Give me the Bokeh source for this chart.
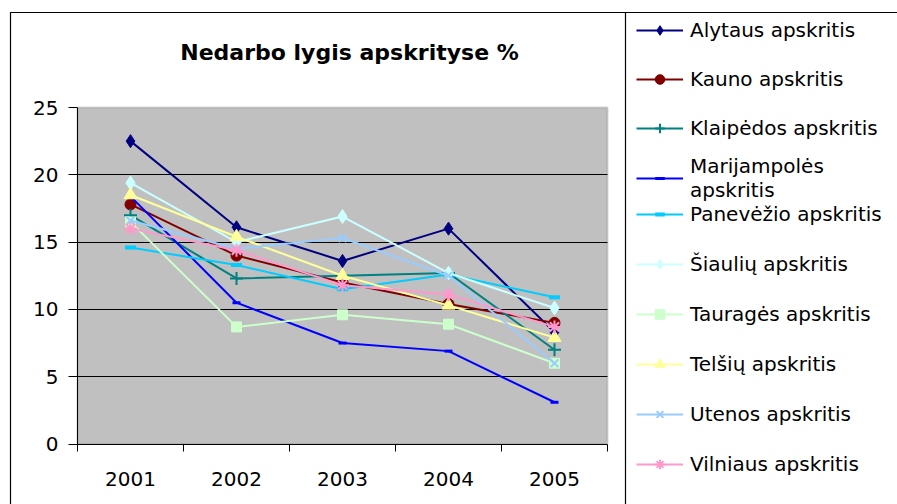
from bokeh.plotting import figure
from bokeh.models import (Range1d, FixedTicker, Legend, LegendItem, Label,
                          BoxAnnotation, LinearAxis, Grid)
from bokeh.embed import file_html
from bokeh.resources import INLINE

years = [2001, 2002, 2003, 2004, 2005]
y_ticks = [0, 5, 10, 15, 20, 25]
grid_ticks = [5, 10, 15, 20]
cat_bounds = [2000.5, 2001.5, 2002.5, 2003.5, 2004.5, 2005.5]

alytaus = [22.5, 16.1, 13.6, 16.0, 8.3]
kauno = [17.8, 14.0, 12.0, 10.4, 9.0]
klaipedos = [17.0, 12.3, 12.5, 12.7, 7.0]
marijampoles = [18.4, 10.5, 7.5, 6.9, 3.1]
panevezio = [14.6, 13.3, 11.5, 12.6, 10.9]
siauliu = [19.4, 15.0, 16.9, 12.7, 10.1]
taurages = [16.5, 8.7, 9.6, 8.9, 6.0]
telsiu = [18.5, 15.4, 12.5, 10.3, 7.9]
utenos = [16.6, 14.5, 15.3, 12.5, 6.0]
vilniaus = [16.0, 14.4, 11.8, 11.1, 8.7]

names = ["Alytaus apskritis", "Kauno apskritis", "Klaipėdos apskritis",
         "Marijampolės\napskritis", "Panevėžio apskritis", "Šiaulių apskritis",
         "Tauragės apskritis", "Telšių apskritis", "Utenos apskritis",
         "Vilniaus apskritis"]
values = [alytaus, kauno, klaipedos, marijampoles, panevezio, siauliu,
          taurages, telsiu, utenos, vilniaus]
colors = ["#000080", "#800000", "#008080", "#0000FF", "#00CCFF", "#CCFFFF",
          "#CCFFCC", "#FFFF99", "#99CCFF", "#FF99CC"]
markers = ["diamond", "circle", "cross", "dash", "dash", "diamond", "square",
           "triangle", "x", "asterisk"]
msizes = [13, 11, 13, 8, 11, 14, 10, 13, 11, 13]
mlw = [1, 1, 2, 3, 4, 1, 1, 1, 2, 2]

FONT = "DejaVu Sans"
W, H = 897, 504
# plot-area pixel box inside the canvas
PX0, PX1, PY_TOP, PY_BOT = 77, 607, 107, 443.5
xs = (cat_bounds[-1] - cat_bounds[0]) / (PX1 - PX0)
ys = (y_ticks[-1] - y_ticks[0]) / (PY_BOT - PY_TOP)
x_range = Range1d(cat_bounds[0] - PX0 * xs, cat_bounds[-1] + (W - PX1) * xs)
y_range = Range1d(y_ticks[0] - (H - PY_BOT) * ys, y_ticks[-1] + PY_TOP * ys)

p = figure(width=W, height=H, output_backend="svg", toolbar_location=None,
           x_range=x_range, y_range=y_range,
           x_axis_location=None, y_axis_location=None,
           min_border=0, min_border_left=0, min_border_right=0,
           min_border_top=0, min_border_bottom=0)
p.background_fill_color = "white"
p.border_fill_color = "white"
p.outline_line_color = None
for g in list(p.grid):
    g.visible = False

# gray plot area
area = BoxAnnotation(left=cat_bounds[0], right=cat_bounds[-1], bottom=y_ticks[0], top=y_ticks[-1],
                     fill_color="#C0C0C0", fill_alpha=1, line_color="#808080",
                     line_width=2, level="image")
p.add_layout(area)

# horizontal gridlines
if "cross_bounds" in Grid.properties():
    grid = Grid(dimension=1, ticker=FixedTicker(ticks=grid_ticks),
                cross_bounds=(cat_bounds[0], cat_bounds[-1]),
                grid_line_color="black", grid_line_width=1)
    p.add_layout(grid)
else:
    p.segment(x0=[cat_bounds[0]] * len(grid_ticks), x1=[cat_bounds[-1]] * len(grid_ticks),
              y0=grid_ticks, y1=grid_ticks, line_color="black", line_width=1, level="underlay")

xaxis = LinearAxis(fixed_location=0, bounds=(cat_bounds[0], cat_bounds[-1]),
                   ticker=FixedTicker(ticks=years, minor_ticks=cat_bounds))
xaxis.major_tick_out = 0
xaxis.major_tick_in = 0
xaxis.minor_tick_out = 7
xaxis.minor_tick_in = 0
xaxis.minor_tick_line_color = "black"
xaxis.axis_line_color = "black"
xaxis.major_label_text_font = FONT
xaxis.major_label_text_font_size = "20px"
xaxis.major_label_text_color = "black"
xaxis.major_label_standoff = 21
p.add_layout(xaxis, "below")

yaxis = LinearAxis(fixed_location=cat_bounds[0], bounds=(y_ticks[0], y_ticks[-1]),
                   ticker=FixedTicker(ticks=y_ticks))
yaxis.major_tick_out = 9
yaxis.major_tick_in = 0
yaxis.minor_tick_out = 0
yaxis.minor_tick_in = 0
yaxis.axis_line_color = "black"
yaxis.major_tick_line_color = "black"
yaxis.major_label_text_font = FONT
yaxis.major_label_text_font_size = "20px"
yaxis.major_label_text_color = "black"
yaxis.major_label_standoff = 10
p.add_layout(yaxis, "left")

items = []
for name, vals, c, m, s, lw in zip(names, values, colors, markers, msizes, mlw):
    lr = p.line(years, vals, line_color=c, line_width=2)
    if m in ("cross", "x", "asterisk", "dash"):
        sr = p.scatter(years, vals, marker=m, size=s, line_color=c, line_width=lw)
    else:
        sr = p.scatter(years, vals, marker=m, size=s, line_color=c, fill_color=c, line_width=lw)
    items.append(LegendItem(label=name, renderers=[lr, sr]))


def make_legend(its, loc, spacing):
    return Legend(items=its, location=loc,
                  label_text_font=FONT, label_text_font_size="20px",
                  label_text_color="black",
                  glyph_width=47, glyph_height=24, label_height=24,
                  label_standoff=7, spacing=spacing, padding=0, margin=0,
                  border_line_color=None, background_fill_alpha=0)


p.add_layout(make_legend(items[0:3], (636, 364), 25))
p.add_layout(make_legend(items[3:4], (636, 302), 0))
p.add_layout(make_legend(items[4:10], (636, 28), 26))

title = Label(x=349, y=H - 51.7, x_units="screen", y_units="screen",
              text="Nedarbo lygis apskrityse %", text_font=FONT,
              text_font_size="22px", text_font_style="bold",
              text_align="center", text_baseline="alphabetic", text_color="black")
p.add_layout(title)

outer = BoxAnnotation(left=10, right=3000, top=H - 12, bottom=-1000,
                      left_units="screen", right_units="screen",
                      top_units="screen", bottom_units="screen",
                      fill_color=None, fill_alpha=0, line_color="black",
                      line_width=1.2, line_alpha=1)
legbox = BoxAnnotation(left=625, right=3000, top=H - 12, bottom=-1000,
                       left_units="screen", right_units="screen",
                       top_units="screen", bottom_units="screen",
                       fill_color=None, fill_alpha=0, line_color="black",
                       line_width=1.2, line_alpha=1)
p.add_layout(outer)
p.add_layout(legbox)

open("out.html", "w").write(file_html(p, INLINE))
